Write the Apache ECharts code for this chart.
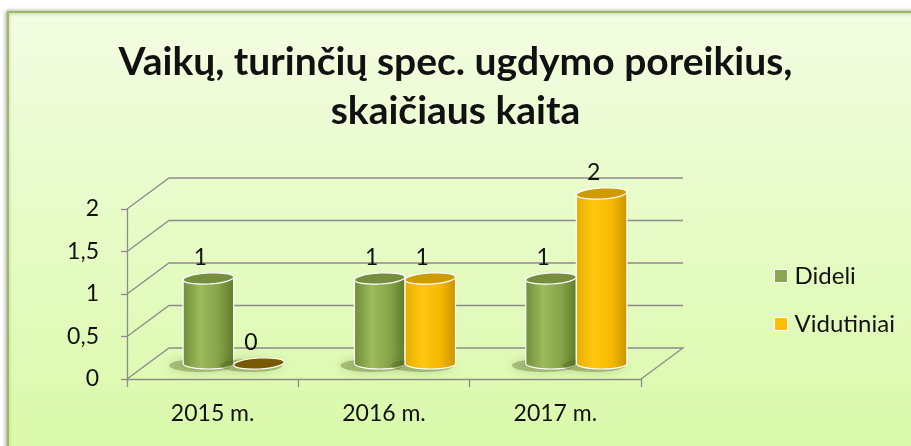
<!DOCTYPE html>
<html>
<head>
<meta charset="utf-8">
<script src="https://cdn.jsdelivr.net/npm/echarts@6/dist/echarts.min.js"></script>
<style>
  html, body { margin: 0; padding: 0; background: #fff; }
  #chart { width: 911px; height: 446px; }
</style>
</head>
<body>
<div id="chart"></div>
<script>
// data
const years = ['2015 m.', '2016 m.', '2017 m.']
const dideli = [1, 1, 1]
const vidutiniai = [0, 1, 2]
const yTicks = [0, 0.5, 1, 1.5, 2]

const chart = echarts.init(document.getElementById('chart'))

// 3d look: depth of the floor in px
const DX = 42, DY = 31
const font = 'Lato, "Open Sans", sans-serif'

const greenBody = { type: 'linear', x: 0, y: 0, x2: 1, y2: 0, colorStops: [
  { offset: 0, color: '#6f8c38' }, { offset: 0.35, color: '#9cbb5c' },
  { offset: 0.7, color: '#86a348' }, { offset: 1, color: '#5e7a2a' }] }
const orangeBody = { type: 'linear', x: 0, y: 0, x2: 1, y2: 0, colorStops: [
  { offset: 0, color: '#e8ad00' }, { offset: 0.35, color: '#ffc710' },
  { offset: 0.7, color: '#f5b800' }, { offset: 1, color: '#c99200' }] }

// walls and floor lines
function wallItem(params, api) {
  const v = api.value(0)
  const band = api.size([1, 0])[0]
  const left = api.coord([0, v])
  const x0 = left[0] - band / 2
  const y0 = left[1]
  const x1 = api.coord([2, 0])[0] + band / 2
  const pts = [[x0, y0], [x0 + DX, y0 - DY], [x1 + DX, y0 - DY]]
  if (v === 0) pts.push([x1, y0])
  return {
    type: 'polyline',
    shape: { points: pts },
    style: { stroke: '#8c8c8c', lineWidth: 1.3, fill: null }
  }
}

function cylinder(side, body, top) {
  return function (params, api) {
    const i = api.value(0), v = api.value(1)
    const band = api.size([1, 0])[0]
    const w = band * 0.295
    const cx = api.coord([i, 0])[0] + DX / 2 + side * w / 2
    const yb = api.coord([i, 0])[1] - DY / 2
    const yt = api.coord([i, v])[1] - DY / 2
    const rx = w / 2, ry = 5.5
    const children = [{
      type: 'ellipse',
      shape: { cx: cx - 8, cy: yb + 2, rx: rx + 6, ry: ry + 1 },
      style: { fill: 'rgba(80,100,30,0.35)', shadowBlur: 10, shadowColor: 'rgba(60,80,20,0.6)' }
    }]
    if (v > 0) {
      children.push({
        type: 'path',
        shape: { pathData: 'M' + (cx - rx) + ',' + yt + ' L' + (cx - rx) + ',' + yb +
          ' A' + rx + ',' + ry + ' 0 0 0 ' + (cx + rx) + ',' + yb +
          ' L' + (cx + rx) + ',' + yt + ' Z' },
        style: { fill: body, stroke: '#fff', lineWidth: 1.2 }
      })
    }
    children.push({
      type: 'ellipse',
      shape: { cx: cx, cy: yt, rx: rx, ry: ry },
      rotation: 0.06, originX: cx, originY: yt,
      style: { fill: top, stroke: '#fff', lineWidth: 1.2 }
    })
    children.push({
      type: 'text',
      style: { text: String(v), x: cx - 8, y: yt - 21, align: 'center', verticalAlign: 'middle',
        font: '23px ' + font, fill: '#111' }
    })
    return { type: 'group', children: children }
  }
}

const option = {
  graphic: [{
    type: 'rect', z: -10,
    shape: { x: 8, y: 12, width: 920, height: 450 },
    style: {
      fill: { type: 'linear', x: 0, y: 0, x2: 0, y2: 1, colorStops: [
        { offset: 0, color: '#f3fde2' }, { offset: 1, color: '#d9f9a8' }] },
      stroke: '#9bbb59', lineWidth: 2,
      shadowBlur: 4, shadowColor: 'rgba(0,0,0,0.35)', shadowOffsetX: -1
    }
  }],
  title: {
    text: 'Vaikų, turinčių spec. ugdymo poreikius,\nskaičiaus kaita',
    left: 'center', top: 33,
    textStyle: { fontFamily: font, fontSize: 39, fontWeight: 'bold', color: '#111', lineHeight: 49 }
  },
  legend: {
    orient: 'vertical', left: 769, top: 259, itemGap: 24,
    itemWidth: 13, itemHeight: 13, icon: 'rect',
    textStyle: { fontFamily: font, fontSize: 24, lineHeight: 24, color: '#111', padding: [0, 0, 0, 2] },
    data: [
      { name: 'Dideli', itemStyle: { color: '#8aa650', borderColor: '#fff', borderWidth: 1 } },
      { name: 'Vidutiniai', itemStyle: { color: '#ffbf00', borderColor: '#fff', borderWidth: 1 } }
    ]
  },
  grid: { left: 127, right: 270, top: 209, bottom: 67 },
  xAxis: {
    type: 'category', data: years,
    axisLine: { lineStyle: { color: '#8c8c8c', width: 1.3 } },
    axisTick: { show: true, length: 8, lineStyle: { color: '#8c8c8c', width: 1.3 } },
    axisLabel: { fontFamily: font, fontSize: 23, color: '#111', margin: 23 }
  },
  yAxis: {
    type: 'value', min: 0, max: 2, interval: 0.5,
    axisLine: { show: true, lineStyle: { color: '#8c8c8c', width: 1.3 } },
    axisTick: { show: true, length: 6, lineStyle: { color: '#8c8c8c', width: 1.3 } },
    splitLine: { show: false },
    axisLabel: { fontFamily: font, fontSize: 23, color: '#111', margin: 28,
      formatter: v => String(v).replace('.', ',') }
  },
  series: [
    { type: 'custom', name: 'walls', silent: true, z: 1,
      renderItem: wallItem, data: yTicks.map(v => [v]), encode: { y: 0 } },
    { type: 'custom', name: 'Dideli', z: 3, itemStyle: { color: '#8aa650' },
      renderItem: cylinder(-1, greenBody, '#758f3e'),
      data: dideli.map((v, i) => [i, v]), encode: { x: 0, y: 1 } },
    { type: 'custom', name: 'Vidutiniai', z: 3, itemStyle: { color: '#ffbf00' },
      renderItem: (p, api) => cylinder(1, orangeBody, api.value(1) > 0 ? '#cf9b00' : '#7a5a00')(p, api),
      data: vidutiniai.map((v, i) => [i, v]), encode: { x: 0, y: 1 } }
  ]
}
chart.setOption(option)
window.addEventListener('resize', () => { chart.resize() })
</script>
</body>
</html>
